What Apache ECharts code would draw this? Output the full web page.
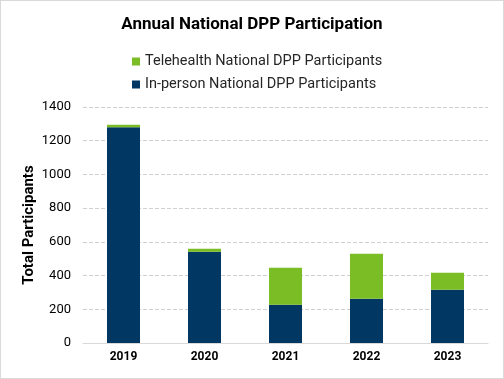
<!DOCTYPE html>
<html><head><meta charset="utf-8">
<script src="https://cdn.jsdelivr.net/npm/echarts@6/dist/echarts.min.js"></script>
<style>html,body{margin:0;padding:0;background:#fff}#c{width:502px;height:377px;border:1px solid #d9d9d9}</style>
</head><body><div id="c"></div>
<script>
const categories = ['2019','2020','2021','2022','2023'];
const inPerson = [1280, 542, 227, 263, 316];
const telehealth = [15, 17, 220, 267, 101];
const yTicks = [0,200,400,600,800,1000,1200,1400];
const chart = echarts.init(document.getElementById('c'));
const font = 'Roboto, "Open Sans", sans-serif';
chart.setOption({
  animation:false,
  textStyle:{fontFamily:font},
  title:{text:'Annual National DPP Participation',left:'center',top:10,textStyle:{fontSize:17,fontWeight:'bold',color:'#000',fontFamily:font}},
  legend:{orient:'vertical',left:126,top:48,itemGap:8,itemWidth:8,itemHeight:8,icon:'rect',
    textStyle:{fontSize:14.5,color:'#262626',fontFamily:font},
    data:['Telehealth National DPP Participants','In-person National DPP Participants']},
  grid:{left:82,right:15,top:106,bottom:35,containLabel:false},
  xAxis:{type:'category',data:categories,axisTick:{show:false},
    axisLine:{lineStyle:{color:'#d9d9d9'}},
    axisLabel:{fontWeight:'bold',fontSize:12,color:'#000',margin:8}},
  yAxis:{type:'value',min:yTicks[0],max:yTicks[yTicks.length-1],interval:200,
    name:'Total Participants',nameLocation:'middle',nameGap:46,nameMoveOverlap:false,
    nameTextStyle:{fontWeight:'bold',fontSize:15,color:'#000'},
    axisLabel:{fontSize:13,color:'#000',margin:12,formatter:v=>String(v)},
    splitLine:{lineStyle:{color:'#d0d0d0',type:'dashed'}}},
  series:[
    {name:'In-person National DPP Participants',type:'bar',stack:'t',data:inPerson,barWidth:33,itemStyle:{color:'#003763'}},
    {name:'Telehealth National DPP Participants',type:'bar',stack:'t',data:telehealth,barWidth:33,itemStyle:{color:'#7ABD24'}}
  ]
});
</script></body></html>
